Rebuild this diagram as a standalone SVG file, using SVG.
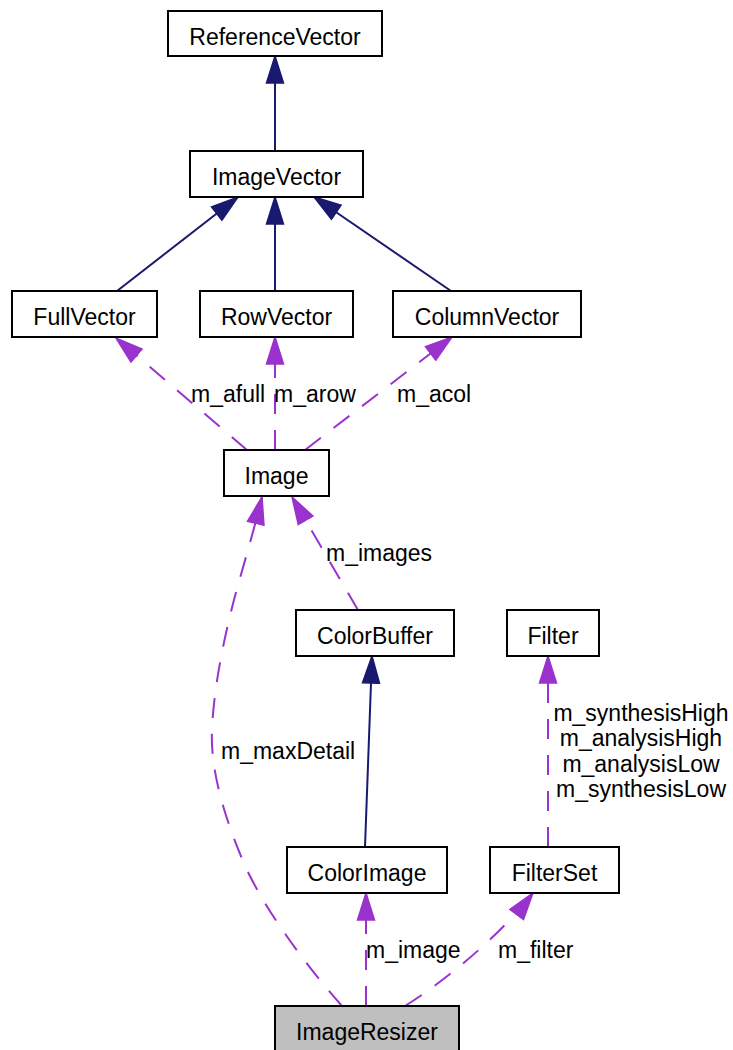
<svg xmlns="http://www.w3.org/2000/svg" width="733" height="1050" viewBox="0 0 733 1050">
  <style>
    .node rect { fill: #ffffff; stroke: #000000; stroke-width: 2; }
    .node.focus rect { fill: #bfbfbf; }
    text { font-family: "Liberation Sans", Arial, Helvetica, sans-serif; font-size: 23px; fill: #000000; }
    .node text { text-anchor: middle; }
    .inherit { fill: none; stroke: #191970; stroke-width: 2; marker-end: url(#arrowNavy); }
    .usage { fill: none; stroke: #9a32cd; stroke-width: 2; stroke-dasharray: 20,16; marker-end: url(#arrowPurple); }
    .lbl { text-anchor: start; }
    .lblc { text-anchor: middle; }
  </style>
  <defs>
    <marker id="arrowNavy" markerUnits="userSpaceOnUse" viewBox="0 -10 30 20" refX="28" refY="0" markerWidth="30" markerHeight="20" orient="auto">
      <path d="M1,-8.5 L28,0 L1,8.5 Z" fill="#191970" stroke="#191970" stroke-width="1.5"/>
    </marker>
    <marker id="arrowPurple" markerUnits="userSpaceOnUse" viewBox="0 -10 30 20" refX="28" refY="0" markerWidth="30" markerHeight="20" orient="auto">
      <path d="M1,-8.5 L28,0 L1,8.5 Z" fill="#9a32cd" stroke="#9a32cd" stroke-width="1.5"/>
    </marker>
  </defs>

  <!-- connectors -->
  <g id="edges">
    <!-- inheritance (solid) -->
    <path class="inherit" d="M275,151 L275,56"/>
    <path class="inherit" d="M117,291 L238,197"/>
    <path class="inherit" d="M275,291 L275,197"/>
    <path class="inherit" d="M451,291 L314,197"/>
    <path class="inherit" d="M365,847 L372,656"/>

    <!-- usage (dashed) -->
    <path class="usage" d="M247,450 L116,338"/>
    <path class="usage" d="M275,450 L275,337"/>
    <path class="usage" d="M305,450 L452,337"/>
    <path class="usage" d="M358,610 L292,497"/>
    <path class="usage" d="M342,1006 C310,970 268,915 246,868 C225,820 210,770 212,730 C214,680 228,620 240,578 C248,550 256,522 262,497"/>
    <path class="usage" d="M548,847 L548,656"/>
    <path class="usage" d="M366,1006 L366,893"/>
    <path class="usage" d="M405,1006 C450,978 505,930 533,893"/>

    <!-- edge labels -->
    <text class="lbl" x="191" y="402">m_afull</text>
    <text class="lbl" x="274" y="402">m_arow</text>
    <text class="lbl" x="397" y="402">m_acol</text>
    <text class="lbl" x="326" y="561">m_images</text>
    <text class="lbl" x="221" y="759">m_maxDetail</text>
    <text class="lblc" x="641" y="721">m_synthesisHigh</text>
    <text class="lblc" x="641" y="746">m_analysisHigh</text>
    <text class="lblc" x="641" y="772">m_analysisLow</text>
    <text class="lblc" x="641" y="797">m_synthesisLow</text>
    <text class="lbl" x="366" y="958">m_image</text>
    <text class="lbl" x="498" y="958">m_filter</text>
  </g>

  <!-- nodes -->
  <g id="ReferenceVector" class="node">
    <rect x="168" y="11" width="214" height="45"/>
    <text x="275" y="45">ReferenceVector</text>
  </g>
  <g id="ImageVector" class="node">
    <rect x="190" y="151" width="173" height="46"/>
    <text x="276.5" y="185">ImageVector</text>
  </g>
  <g id="FullVector" class="node">
    <rect x="12" y="291" width="145" height="46"/>
    <text x="84.5" y="325">FullVector</text>
  </g>
  <g id="RowVector" class="node">
    <rect x="200" y="291" width="153" height="46"/>
    <text x="276.5" y="325">RowVector</text>
  </g>
  <g id="ColumnVector" class="node">
    <rect x="393" y="291" width="188" height="46"/>
    <text x="487" y="325">ColumnVector</text>
  </g>
  <g id="Image" class="node">
    <rect x="224" y="450" width="105" height="46"/>
    <text x="276.5" y="484">Image</text>
  </g>
  <g id="ColorBuffer" class="node">
    <rect x="296" y="610" width="158" height="46"/>
    <text x="375" y="644">ColorBuffer</text>
  </g>
  <g id="Filter" class="node">
    <rect x="507" y="610" width="92" height="46"/>
    <text x="553" y="644">Filter</text>
  </g>
  <g id="ColorImage" class="node">
    <rect x="287" y="847" width="160" height="46"/>
    <text x="367" y="881">ColorImage</text>
  </g>
  <g id="FilterSet" class="node">
    <rect x="490" y="847" width="129" height="46"/>
    <text x="554.5" y="881">FilterSet</text>
  </g>
  <g id="ImageResizer" class="node focus">
    <rect x="275" y="1006" width="184" height="46"/>
    <text x="367" y="1040">ImageResizer</text>
  </g>
</svg>
